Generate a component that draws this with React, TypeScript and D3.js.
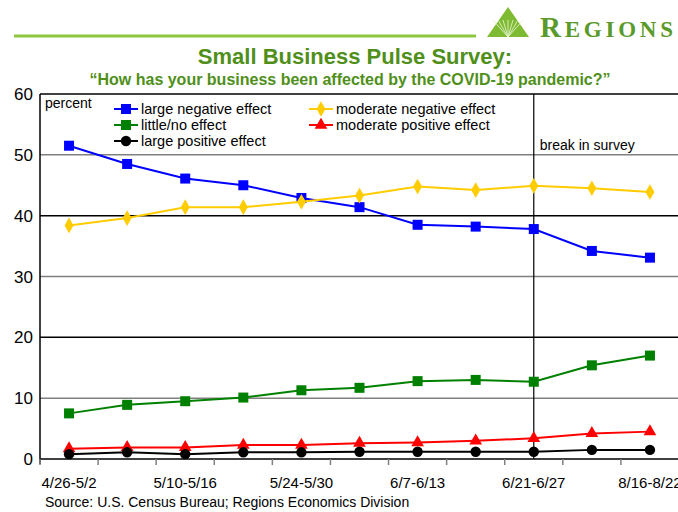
import * as d3 from "d3";

const weeks = [
  "4/26-5/2", "5/3-5/9", "5/10-5/16", "5/17-5/23", "5/24-5/30", "5/31-6/6",
  "6/7-6/13", "6/14-6/20", "6/21-6/27", "8/9-8/15", "8/16-8/22",
];
const labeledWeeks = ["4/26-5/2", "5/10-5/16", "5/24-5/30", "6/7-6/13", "6/21-6/27", "8/16-8/22"];
const largeNegative = [51.5, 48.5, 46.1, 45.0, 42.9, 41.4, 38.5, 38.2, 37.8, 34.2, 33.1];
const moderateNegative = [38.4, 39.6, 41.4, 41.4, 42.3, 43.3, 44.8, 44.2, 44.9, 44.5, 43.9];
const littleNo = [7.5, 8.9, 9.5, 10.1, 11.3, 11.7, 12.8, 13.0, 12.7, 15.4, 17.0];
const moderatePositive = [1.7, 1.9, 1.9, 2.3, 2.3, 2.6, 2.7, 3.0, 3.4, 4.2, 4.5];
const largePositive = [0.8, 1.1, 0.8, 1.1, 1.1, 1.2, 1.2, 1.2, 1.2, 1.5, 1.5];
const yTicks = [0, 10, 20, 30, 40, 50, 60];
const breakWeek = "6/21-6/27";

const series = [
  { name: "large negative effect", values: largeNegative, color: "#0000ff", marker: "square" },
  { name: "moderate negative effect", values: moderateNegative, color: "#ffcc00", marker: "diamond" },
  { name: "little/no effect", values: littleNo, color: "#008000", marker: "square" },
  { name: "moderate positive effect", values: moderatePositive, color: "#ff0000", marker: "triangle" },
  { name: "large positive effect", values: largePositive, color: "#000000", marker: "circle" },
];

const W = 678, H = 512;
const plot = { left: 40, right: 679, top: 94, bottom: 459 };
const font = "'Liberation Sans', Arial, sans-serif";
const green = "#4f8f1a";

const symbolFor = (m: string) => {
  if (m === "square") return d3.symbol(d3.symbolSquare, 100)();
  if (m === "diamond") return d3.symbol(d3.symbolDiamond, 70)();
  if (m === "triangle") return d3.symbol(d3.symbolTriangle, 70)();
  return d3.symbol(d3.symbolCircle, 85)();
};

const Marker = ({ x, y, s }: any) => (
  <path d={symbolFor(s.marker) as string} transform={`translate(${x},${y})`} fill={s.color} />
);

// legend layout: [column x, row index]
const legendPos: Record<string, [number, number]> = {
  "large negative effect": [114, 0],
  "little/no effect": [114, 1],
  "large positive effect": [114, 2],
  "moderate negative effect": [309, 0],
  "moderate positive effect": [309, 1],
};

export default function App() {
  const x = d3.scaleBand().domain(weeks).range([plot.left, plot.right]);
  const y = d3.scaleLinear().domain([0, 60]).range([plot.bottom, plot.top]);
  const cx = (w: string) => (x(w) as number) + x.bandwidth() / 2;
  const line = d3.line<number>().x((_, i) => cx(weeks[i])).y(d => y(d));

  return (
    <svg width={W} height={H} style={{ position: "absolute", left: 0, top: 0 }} fontFamily={font}>
      {/* header */}
      <line x1={14} x2={476} y1={36} y2={36} stroke="#8dc63f" strokeWidth={3} />
      <g>
        <polygon points="508,7 529,37 487,37" fill="#7fbb32" />
        {[-15, -10, -5, 0, 5, 10, 15].map((dx, i) => (
          <line key={i} x1={508} y1={37} x2={508 + dx} y2={20} stroke="#e2f1c8" strokeWidth={0.9} />
        ))}
        <text x={540} y={37} fill="#5a9a2a" fontWeight="bold"
          fontFamily="'Liberation Serif', 'DejaVu Serif', serif"
          textLength={133} lengthAdjust="spacing">
          <tspan fontSize={29}>R</tspan><tspan fontSize={23}>EGIONS</tspan>
        </text>
      </g>
      <text x={355} y={64} textAnchor="middle" fontSize={22} fontWeight="bold" fill={green}>
        Small Business Pulse Survey:
      </text>
      <text x={350} y={85} textAnchor="middle" fontSize={16} fontWeight="bold" fill={green}>
        “How has your business been affected by the COVID-19 pandemic?”
      </text>

      {/* grid */}
      {yTicks.map(t => (
        <g key={t}>
          <line x1={plot.left} x2={W} y1={y(t)} y2={y(t)}
            stroke={t % 20 === 0 ? "#000" : "#808080"} strokeWidth={1.5} />
          <text x={33} y={y(t)} dy="0.36em" textAnchor="end" fontSize={17} fill="#000">{t}</text>
        </g>
      ))}
      <line x1={plot.left} x2={plot.left} y1={plot.top} y2={plot.bottom + 5} stroke="#000" strokeWidth={1.5} />
      {weeks.map(w => (
        <line key={w} x1={x(w) as number} x2={x(w) as number} y1={plot.bottom} y2={plot.bottom + 6}
          stroke="#808080" strokeWidth={1.5} />
      ))}
      {labeledWeeks.map(w => (
        <text key={w} x={cx(w)} y={488} textAnchor="middle" fontSize={15} fill="#000">{w}</text>
      ))}

      {/* break line */}
      <line x1={cx(breakWeek)} x2={cx(breakWeek)} y1={plot.top} y2={plot.bottom} stroke="#000" strokeWidth={1.2} />
      <text x={cx(breakWeek) + 6} y={150} fontSize={14} fill="#000">break in survey</text>
      <text x={45} y={108} fontSize={14} fill="#000">percent</text>

      {/* series */}
      {series.map(s => (
        <g key={s.name}>
          <path d={line(s.values) as string} fill="none" stroke={s.color} strokeWidth={2} />
          {s.values.map((v, i) => (
            <Marker key={i} x={cx(weeks[i])} y={y(v)} s={s} />
          ))}
        </g>
      ))}

      {/* legend */}
      {series.map(s => {
        const [lx, row] = legendPos[s.name];
        const ly = 109 + row * 16;
        return (
          <g key={s.name}>
            <line x1={lx} x2={lx + 24} y1={ly} y2={ly} stroke={s.color} strokeWidth={2} />
            <Marker x={lx + 12} y={ly} s={s} />
            <text x={lx + 27} y={ly} dy="0.36em" fontSize={14.5} fill="#000">{s.name}</text>
          </g>
        );
      })}

      <text x={45} y={507} fontSize={14} fill="#000">Source: U.S. Census Bureau; Regions Economics Division</text>
    </svg>
  );
}
